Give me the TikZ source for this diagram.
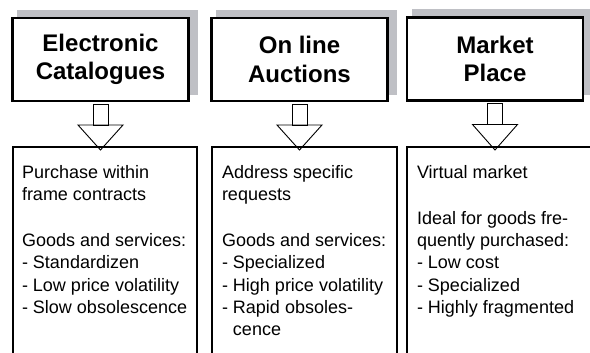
\documentclass[tikz,border=0pt]{standalone}
\usepackage{fontspec}
\setmainfont{Liberation Sans}
\usetikzlibrary{calc,shadows}
\definecolor{shadegray}{RGB}{191,192,197}

\begin{document}
\begin{tikzpicture}[x=1pt,y=1pt]
        \tikzstyle{every node}+=[inner sep=0pt, outer sep=0pt]
        \tikzstyle{headbox}=[draw, fill=white, line width=2.8pt, minimum width=176pt, minimum height=83pt, align=center, font=\fontsize{24}{28.5}\selectfont\bfseries, general shadow={fill=shadegray, shadow xshift=7pt, shadow yshift=7pt, shadow scale=1.03}]
        \tikzstyle{listbox}=[draw, line width=2.4pt, anchor=north west, minimum height=230pt]
        \tikzstyle{listtext}=[anchor=north west, align=left, font=\fontsize{18}{22.3}\selectfont]
        \tikzstyle{hollow}=[draw, line width=0.9pt]
        \useasboundingbox (0,0) rectangle (590,-353);
        \node [headbox] (cat) at (100.5,-59.5) {Electronic\\Catalogues};
        \node [headbox] (auc) at (299.5,-59.5) {On line\\Auctions};
        \node [headbox] (mkt) at (495,-59) {Market\\Place};
        \node [listbox, minimum width=184pt] (lcat) at (13,-147) {};
        \node [listbox, minimum width=185pt] (lauc) at (212,-147) {};
        \node [listbox, minimum width=200pt] (lmkt) at (407,-147) {};
        \node [listtext] (tcat) at ($(lcat.north west)+(9,-18.3)$) {Purchase within\\frame contracts\\[23.5pt]Goods and services:\\- Standardizen\\- Low price volatility\\- Slow obsolescence};
        \node [listtext] (tauc) at ($(lauc.north west)+(10,-18.3)$) {Address specific\\requests\\[23.5pt]Goods and services:\\- Specialized\\- High price volatility\\- Rapid obsoles-\\\hphantom{- }cence};
        \node [listtext] (tmkt) at ($(lmkt.north west)+(10,-18.3)$) {Virtual market\\[23.5pt]Ideal for goods fre-\\quently purchased:\\- Low cost\\- Specialized\\- Highly fragmented};
        \foreach \t/\l in {cat/lcat, auc/lauc, mkt/lmkt} {
          \draw [hollow] ($(\t.south)+(-7.5,-3)$) rectangle ($(\t.south)+(7.5,-24)$);
          \draw [hollow] ($(\t.south)+(-22.5,-24)$) -- ($(\t.south)+(22.5,-24)$) -- ($(\t.south|-\l.north)+(0,-3)$) -- cycle;
        }
\end{tikzpicture}
\end{document}
